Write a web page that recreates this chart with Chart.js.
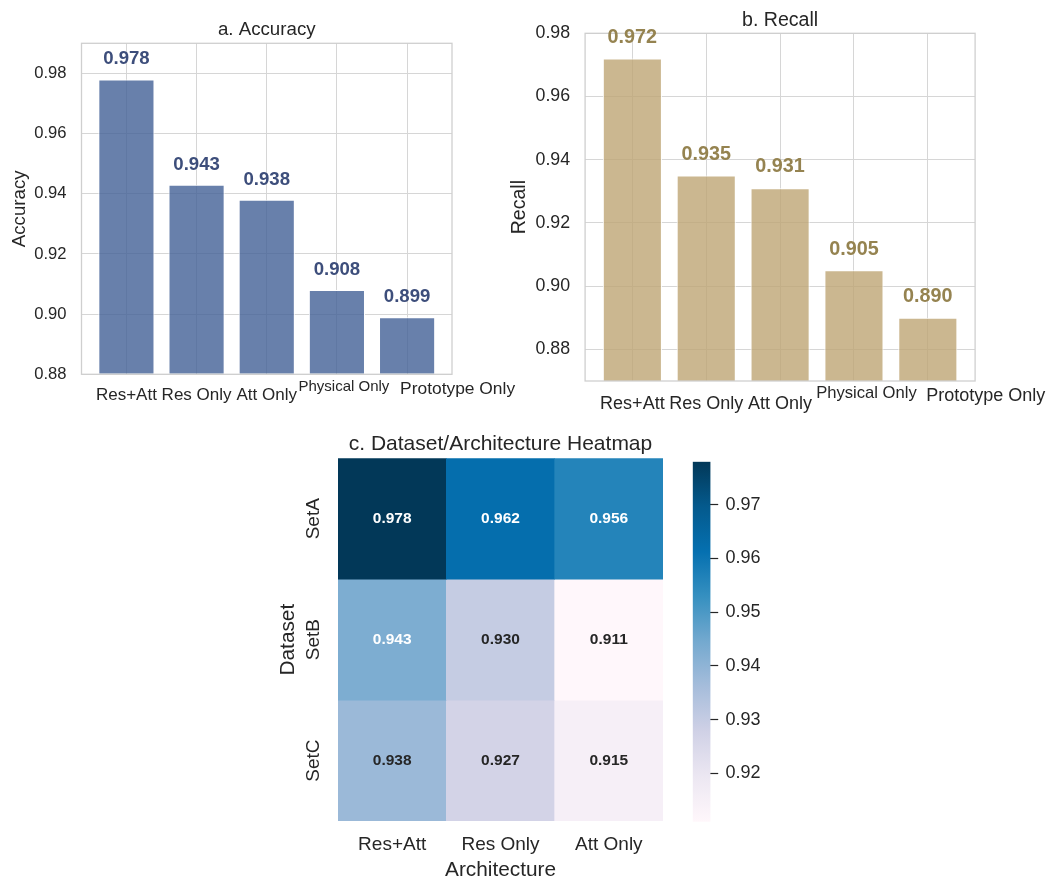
<!DOCTYPE html>
<html>
<head>
<meta charset="utf-8">
<title>Model comparison</title>
<script src="https://cdn.jsdelivr.net/npm/chart.js@4.4.1/dist/chart.umd.min.js"></script>
<style>
  html, body { margin: 0; padding: 0; background: #ffffff; }
  #page { position: relative; width: 1049px; height: 877px; overflow: hidden; background: #ffffff; }
  canvas { position: absolute; }
</style>
</head>
<body>
<div id="page">
  <canvas id="acc"  width="525" height="420" style="left:0px;top:0px;width:525px;height:420px"></canvas>
  <canvas id="rec"  width="549" height="420" style="left:500px;top:0px;width:549px;height:420px"></canvas>
  <canvas id="heat" width="410" height="457" style="left:270px;top:420px;width:410px;height:457px"></canvas>
  <canvas id="cbar" width="110" height="400" style="left:680px;top:440px;width:110px;height:400px"></canvas>
</div>
<script>
// ---- data ---------------------------------------------------------------
const categories = ['Res+Att', 'Res Only', 'Att Only', 'Physical Only', 'Prototype Only'];
const accuracy = [0.978, 0.943, 0.938, 0.908, 0.899];
const recall = [0.972, 0.935, 0.931, 0.905, 0.890];
const accuracyTicks = [0.88, 0.90, 0.92, 0.94, 0.96, 0.98];
const recallTicks = [0.88, 0.90, 0.92, 0.94, 0.96, 0.98];

const architectures = ['Res+Att', 'Res Only', 'Att Only'];
const datasetNames = ['SetA', 'SetB', 'SetC'];
const setA = [0.978, 0.962, 0.956];
const setB = [0.943, 0.930, 0.911];
const setC = [0.938, 0.927, 0.915];
const colorbarTicks = [0.92, 0.93, 0.94, 0.95, 0.96, 0.97];

// ---- shared style -------------------------------------------------------
const FONT = '"Liberation Sans", Arial, Helvetica, sans-serif';
const INK = '#262626';
const GRID = '#d6d6d6';
const FRAME = '#cfcfcf';
Chart.defaults.font.family = FONT;
Chart.defaults.color = INK;

// PuBu colour ramp
const PUBU = ['#fff7fb', '#ece7f2', '#d0d1e6', '#a6bddb', '#74a9cf', '#3690c0', '#0570b0', '#045a8d', '#023858'];
const hexRgb = h => [1, 3, 5].map(i => parseInt(h.slice(i, i + 2), 16));
function pubu(t) {
  t = Math.max(0, Math.min(1, t));
  const pos = t * (PUBU.length - 1);
  const i = Math.min(Math.floor(pos), PUBU.length - 2);
  const f = pos - i;
  const a = hexRgb(PUBU[i]), b = hexRgb(PUBU[i + 1]);
  return a.map((v, k) => v + (b[k] - v) * f);
}
function luminance(rgb) {
  const lin = rgb.map(v => { v /= 255; return v <= 0.03928 ? v / 12.92 : Math.pow((v + 0.055) / 1.055, 2.4); });
  return 0.2126 * lin[0] + 0.7152 * lin[1] + 0.0722 * lin[2];
}
const rgbStr = c => `rgb(${c.map(Math.round).join(',')})`;

// ---- bar panels ---------------------------------------------------------
function barPanel(canvasId, cfg) {
  const decor = {
    id: 'decor' + canvasId,
    afterDatasetsDraw(chart) {
      const { ctx, chartArea: a, scales: { x, y } } = chart;
      ctx.save();
      ctx.strokeStyle = FRAME;
      ctx.lineWidth = 1.3;
      ctx.strokeRect(a.left, a.top, a.right - a.left, a.bottom - a.top);
      ctx.font = `bold ${cfg.valueSize}px ${FONT}`;
      ctx.fillStyle = cfg.valueColor;
      ctx.textAlign = 'center';
      ctx.textBaseline = 'alphabetic';
      cfg.values.forEach((v, i) => {
        ctx.fillText(v.toFixed(3), x.getPixelForValue(i), y.getPixelForValue(v + cfg.lift));
      });
      ctx.restore();
    },
    afterDraw(chart) {
      const { ctx, chartArea: a, scales: { x } } = chart;
      ctx.save();
      ctx.fillStyle = INK;
      ctx.textAlign = 'center';
      ctx.textBaseline = 'alphabetic';
      // category names under the axis
      categories.forEach((name, i) => {
        const st = cfg.labelStyle[i];
        ctx.font = `${st.size}px ${FONT}`;
        ctx.fillText(name, x.getPixelForValue(i) + st.dx, a.bottom + st.dy);
      });
      // title
      ctx.font = `${cfg.titleSize}px ${FONT}`;
      ctx.fillText(cfg.title, (a.left + a.right) / 2, cfg.titleBaseline);
      // y axis label
      ctx.font = `${cfg.ylabelSize}px ${FONT}`;
      ctx.translate(cfg.ylabelX, (a.top + a.bottom) / 2);
      ctx.rotate(-Math.PI / 2);
      ctx.fillText(cfg.ylabel, 0, 0);
      ctx.restore();
    }
  };

  return new Chart(document.getElementById(canvasId), {
    type: 'bar',
    data: {
      datasets: [{
        data: cfg.values.map((v, i) => ({ x: i, y: v })),
        backgroundColor: cfg.fill,
        borderColor: '#ffffff',
        borderWidth: 1,
        base: cfg.yMin,
        barPercentage: 0.8,
        categoryPercentage: 1
      }]
    },
    options: {
      responsive: false,
      animation: false,
      devicePixelRatio: 1,
      layout: { padding: cfg.padding },
      plugins: { legend: { display: false }, tooltip: { enabled: false } },
      scales: {
        x: {
          type: 'linear',
          offset: false,
          min: -0.64,
          max: categories.length - 1 + 0.64,
          afterBuildTicks: s => { s.ticks = categories.map((_, i) => ({ value: i })); },
          afterFit: s => { s.height = 0; },
          grid: { color: GRID, lineWidth: 1, drawTicks: false, offset: false },
          border: { display: false },
          ticks: { display: false }
        },
        y: {
          min: cfg.yMin,
          max: cfg.yMax,
          afterBuildTicks: s => { s.ticks = cfg.ticks.map(v => ({ value: v })); },
          afterFit: s => { s.width = cfg.axisWidth; },
          grid: { color: GRID, lineWidth: 1, drawTicks: false },
          border: { display: false },
          ticks: {
            padding: 15,
            color: INK,
            font: { size: cfg.tickSize },
            callback: v => Number(v).toFixed(2)
          }
        }
      }
    },
    plugins: [decor]
  });
}

barPanel('acc', {
  values: accuracy, ticks: accuracyTicks, yMin: 0.88, yMax: 0.99,
  fill: 'rgba(66,96,150,0.8)', valueColor: '#3d4e7b', valueSize: 18.6, lift: 0.005,
  padding: { left: 0, top: 43.3, right: 73, bottom: 45.7 }, axisWidth: 81.5,
  tickSize: 16.6,
  title: 'a. Accuracy', titleSize: 18.7, titleBaseline: 35,
  ylabel: 'Accuracy', ylabelSize: 18.7, ylabelX: 24.5,
  labelStyle: [
    { size: 17, dx: 0, dy: 25.2 }, { size: 17, dx: 0, dy: 25.2 }, { size: 17, dx: 0, dy: 25.2 },
    { size: 15, dx: 7, dy: 16.4 }, { size: 17.4, dx: 50.5, dy: 19.2 }
  ]
});

barPanel('rec', {
  values: recall, ticks: recallTicks, yMin: 0.87, yMax: 0.98,
  fill: 'rgba(190,165,116,0.8)', valueColor: '#958350', valueSize: 19.8, lift: 0.005,
  padding: { left: 0, top: 33.3, right: 73.9, bottom: 39 }, axisWidth: 85.1,
  tickSize: 17.8,
  title: 'b. Recall', titleSize: 19.6, titleBaseline: 25.7,
  ylabel: 'Recall', ylabelSize: 19.6, ylabelX: 25,
  labelStyle: [
    { size: 18, dx: 0, dy: 28 }, { size: 18, dx: 0, dy: 28 }, { size: 18, dx: 0, dy: 28 },
    { size: 16.6, dx: 12.5, dy: 17 }, { size: 18, dx: 58, dy: 19.5 }
  ]
});

// ---- heatmap ------------------------------------------------------------
const heatRows = [setA, setB, setC];
const allHeat = heatRows.flat();
const vmin = Math.min(...allHeat);
const vmax = Math.max(...allHeat);
const cellRgb = v => pubu((v - vmin) / (vmax - vmin));

const heatDecor = {
  id: 'heatDecor',
  afterDatasetsDraw(chart) {
    const { ctx } = chart;
    ctx.save();
    ctx.font = `bold 15.5px ${FONT}`;
    ctx.textAlign = 'center';
    ctx.textBaseline = 'middle';
    heatRows.forEach((row, r) => {
      const meta = chart.getDatasetMeta(r);
      row.forEach((v, c) => {
        const el = meta.data[c];
        ctx.fillStyle = luminance(cellRgb(v)) > 0.408 ? INK : '#ffffff';
        ctx.fillText(v.toFixed(3), el.x, (el.y + el.base) / 2);
      });
    });
    ctx.restore();
  },
  afterDraw(chart) {
    const { ctx, chartArea: a, scales: { x, y } } = chart;
    ctx.save();
    ctx.fillStyle = INK;
    ctx.textAlign = 'center';
    ctx.textBaseline = 'alphabetic';
    ctx.font = `21px ${FONT}`;
    ctx.fillText('c. Dataset/Architecture Heatmap', (a.left + a.right) / 2, 30);
    ctx.font = `19px ${FONT}`;
    architectures.forEach((name, c) => ctx.fillText(name, x.getPixelForValue(c), 430.3));
    ctx.font = `20.8px ${FONT}`;
    ctx.fillText('Architecture', (a.left + a.right) / 2, 456.4);
    datasetNames.forEach((name, r) => {
      ctx.save();
      ctx.font = `19px ${FONT}`;
      ctx.translate(48.6, y.getPixelForValue(r + 0.5));
      ctx.rotate(-Math.PI / 2);
      ctx.fillText(name, 0, 0);
      ctx.restore();
    });
    ctx.font = `20.8px ${FONT}`;
    ctx.translate(24.2, (a.top + a.bottom) / 2);
    ctx.rotate(-Math.PI / 2);
    ctx.fillText('Dataset', 0, 0);
    ctx.restore();
  }
};

new Chart(document.getElementById('heat'), {
  type: 'bar',
  data: {
    labels: architectures,
    datasets: heatRows.map((row, r) => ({
      label: datasetNames[r],
      data: row.map(() => [r, r + 1]),
      backgroundColor: row.map(v => rgbStr(cellRgb(v))),
      borderWidth: 0,
      barPercentage: 1,
      categoryPercentage: 1,
      grouped: false
    }))
  },
  options: {
    responsive: false,
    animation: false,
    devicePixelRatio: 1,
    layout: { padding: { left: 68, right: 17, top: 38.3, bottom: 56 } },
    plugins: { legend: { display: false }, tooltip: { enabled: false } },
    scales: {
      x: { display: false, offset: true },
      y: { display: false, min: 0, max: datasetNames.length, reverse: true }
    }
  },
  plugins: [heatDecor]
});

// ---- colour bar ---------------------------------------------------------
new Chart(document.getElementById('cbar'), {
  type: 'bar',
  data: {
    labels: [''],
    datasets: [{
      data: [[vmin, vmax]],
      backgroundColor: c => {
        const chart = c.chart;
        const ys = chart.scales.y;
        if (!chart.chartArea || !ys) return PUBU[4];
        const g = chart.ctx.createLinearGradient(0, ys.getPixelForValue(vmin), 0, ys.getPixelForValue(vmax));
        PUBU.forEach((col, i) => g.addColorStop(i / (PUBU.length - 1), col));
        return g;
      },
      borderWidth: 0,
      barPercentage: 1,
      categoryPercentage: 1
    }]
  },
  options: {
    responsive: false,
    animation: false,
    devicePixelRatio: 1,
    layout: { padding: { left: 12.7, right: 0, top: 21.7, bottom: 18.3 } },
    plugins: { legend: { display: false }, tooltip: { enabled: false } },
    scales: {
      x: { display: false },
      y: {
        position: 'right',
        min: vmin,
        max: vmax,
        afterBuildTicks: s => { s.ticks = colorbarTicks.map(v => ({ value: v })); },
        afterFit: s => { s.width = 79.5; },
        grid: { drawOnChartArea: false, drawTicks: true, tickLength: 7.7, tickColor: INK, tickWidth: 1.2 },
        border: { display: false },
        ticks: { padding: 7.3, color: INK, font: { size: 18 }, callback: v => Number(v).toFixed(2) }
      }
    }
  }
});
</script>
</body>
</html>
